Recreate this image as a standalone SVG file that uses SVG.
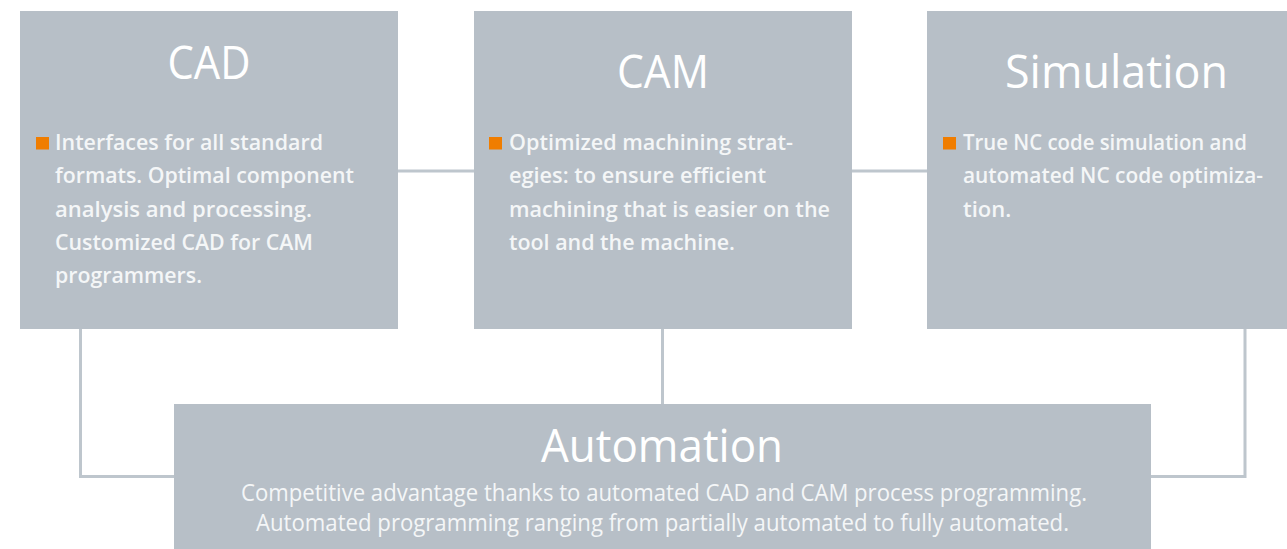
<svg xmlns="http://www.w3.org/2000/svg" width="1287" height="549" viewBox="0 0 1287 549">
  <style>
    .box { fill: #b7bfc7; }
    .conn { fill: none; stroke: #bec6cd; stroke-width: 3; }
    .title { font-family: "Open Sans", "Noto Sans", sans-serif; font-size: 46px; font-weight: 500; fill: #ffffff; text-anchor: middle; }
    .body { font-family: "Open Sans", "Noto Sans", sans-serif; font-size: 22px; font-weight: 600; fill: #f4f6f7; }
    .abody { font-family: "Open Sans", "Noto Sans", sans-serif; font-size: 23px; font-weight: 500; fill: #f4f6f7; text-anchor: middle; }
    .bullet { fill: #f07d00; }
  </style>
  <rect width="1287" height="549" fill="#ffffff"/>

  <g id="connectors">
    <path class="conn" d="M398 171 H474"/>
    <path class="conn" d="M852 171 H927"/>
    <path class="conn" d="M80.5 329 V476.5 H174"/>
    <path class="conn" d="M662.5 329 V404"/>
    <path class="conn" d="M1245 329 V476.5 H1151"/>
  </g>

  <g id="cad">
    <rect class="box" x="20" y="11" width="378" height="318"/>
    <text class="title" x="209" y="79" textLength="83" lengthAdjust="spacingAndGlyphs">CAD</text>
    <rect class="bullet" x="36" y="137" width="13" height="12.5"/>
    <text class="body" x="55" y="150" textLength="268" lengthAdjust="spacingAndGlyphs">Interfaces for all standard</text>
    <text class="body" x="55" y="183.3" textLength="299" lengthAdjust="spacingAndGlyphs">formats. Optimal component</text>
    <text class="body" x="55" y="216.6" textLength="257" lengthAdjust="spacingAndGlyphs">analysis and processing.</text>
    <text class="body" x="55" y="250" textLength="258" lengthAdjust="spacingAndGlyphs">Customized CAD for CAM</text>
    <text class="body" x="55" y="283.3" textLength="147" lengthAdjust="spacingAndGlyphs">programmers.</text>
  </g>

  <g id="cam">
    <rect class="box" x="474" y="11" width="378" height="318"/>
    <text class="title" x="663" y="88" textLength="92" lengthAdjust="spacingAndGlyphs">CAM</text>
    <rect class="bullet" x="489" y="137" width="13" height="12.5"/>
    <text class="body" x="509" y="150" textLength="284" lengthAdjust="spacingAndGlyphs">Optimized machining strat-</text>
    <text class="body" x="509" y="183.3" textLength="257" lengthAdjust="spacingAndGlyphs">egies: to ensure efficient</text>
    <text class="body" x="509" y="216.6" textLength="321" lengthAdjust="spacingAndGlyphs">machining that is easier on the</text>
    <text class="body" x="509" y="250" textLength="226" lengthAdjust="spacingAndGlyphs">tool and the machine.</text>
  </g>

  <g id="simulation">
    <rect class="box" x="927" y="11" width="378" height="318"/>
    <text class="title" x="1116.5" y="88" textLength="223" lengthAdjust="spacingAndGlyphs">Simulation</text>
    <rect class="bullet" x="943" y="137" width="13" height="12.5"/>
    <text class="body" x="963" y="150" textLength="284" lengthAdjust="spacingAndGlyphs">True NC code simulation and</text>
    <text class="body" x="963" y="183.3" textLength="300" lengthAdjust="spacingAndGlyphs">automated NC code optimiza-</text>
    <text class="body" x="963" y="216.6">tion.</text>
  </g>

  <g id="automation">
    <rect class="box" x="174" y="404" width="977" height="145"/>
    <text class="title" x="662" y="462" textLength="242" lengthAdjust="spacingAndGlyphs">Automation</text>
    <text class="abody" x="664" y="501" textLength="846" lengthAdjust="spacingAndGlyphs">Competitive advantage thanks to automated CAD and CAM process programming.</text>
    <text class="abody" x="662.5" y="531" textLength="813" lengthAdjust="spacingAndGlyphs">Automated programming ranging from partially automated to fully automated.</text>
  </g>
</svg>
